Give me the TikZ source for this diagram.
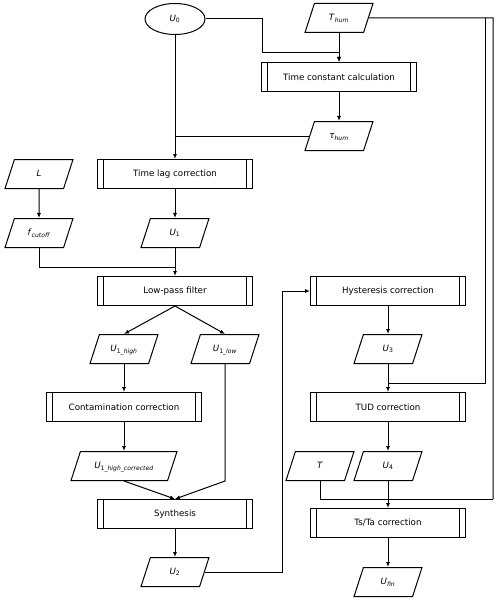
\documentclass[tikz,border=0pt]{standalone}
\usepackage{fontspec}
\setmainfont{DejaVu Sans}
\usetikzlibrary{shapes.geometric,arrows.meta,positioning}

\newcommand{\var}[2]{\textit{#1}\textsubscript{#2}}

\tikzset{
  proc/.style={draw, line width=1pt, minimum width=155pt, minimum height=29pt, inner sep=0pt,
    path picture={
      \draw[line width=1pt] ([xshift=6pt]path picture bounding box.north west) -- ([xshift=6pt]path picture bounding box.south west);
      \draw[line width=1pt] ([xshift=-6pt]path picture bounding box.north east) -- ([xshift=-6pt]path picture bounding box.south east);}},
  data/.style={draw, line width=1pt, trapezium, trapezium left angle=72, trapezium right angle=108,
    trapezium stretches body, text height=8pt, text depth=3pt, inner ysep=9pt, inner xsep=0pt,
    minimum width=#1},
  data/.default=68pt,
  term/.style={draw, line width=1pt, ellipse, minimum width=60pt, minimum height=31pt, inner sep=0pt},
  flow/.style={line width=1pt, -{Latex[length=5pt,width=4pt]}},
  wire/.style={line width=1pt}
}

\begin{document}
\begin{tikzpicture}[x=1pt,y=-1pt,font=\fontsize{8.7}{10}\selectfont]
\useasboundingbox (0,0) rectangle (500,602);
% inputs and first branch
\node[term] (u0) at (175,19) {\var{U}{0}};
\node[data] (thum) at (339,18) {\var{T}{\textit{hum}}};
\node[proc] (tcc) at (339,77) {Time constant calculation};
\node[data] (tau) at (339,136) {\var{τ}{\textit{hum}}};
\node[proc] (tlc) at (175,174) {Time lag correction};
\node[data] (L) at (39,174) {\textit{L}};
\node[data] (fcut) at (39,233) {\var{f}{\textit{cutoff}}};
\node[data] (u1) at (175,233) {\var{U}{1}};
\node[proc] (lpf) at (175,291) {Low-pass filter};
\node[data] (u1h) at (124,349) {\var{U}{1\textit{\_high}}};
\node[data] (u1l) at (225,349) {\var{U}{1\textit{\_low}}};
\node[proc] (cont) at (124,407) {Contamination correction};
\node[data=106pt] (u1hc) at (124,466) {\var{U}{1\textit{\_high\_corrected}}};
\node[proc] (syn) at (175,514) {Synthesis};
\node[data] (u2) at (175,572) {\var{U}{2}};
% second branch
\node[proc] (hys) at (388,291) {Hysteresis correction};
\node[data] (u3) at (388,349) {\var{U}{3}};
\node[proc] (tud) at (388,407) {TUD correction};
\node[data] (T) at (320,466) {\textit{T}};
\node[data] (u4) at (388,466) {\var{U}{4}};
\node[proc] (tsta) at (388,523) {Ts/Ta correction};
\node[data] (ufin) at (388,582) {\var{U}{\textit{fin}}};
% bends
\coordinate (j1) at (262,53);
\coordinate (j2) at (175,267);
\coordinate (j3) at (282,291);
\coordinate (j4) at (493,18);
\coordinate (j5) at (493,499);
\coordinate (j6) at (485,18);
\coordinate (j7) at (388,383);
% connectors
\draw[flow] (u0.east) -| (j1) -| (tcc.north);
\draw[flow] (thum) -- (tcc);
\draw[flow] (tcc) -- (tau);
\draw[flow] (u0) -- (tlc);
\draw[wire] (tau.west) -- (tau.west -| u0);
\draw[flow] (L) -- (fcut);
\draw[flow] (tlc) -- (u1);
\draw[flow] (u1) -- (lpf);
\draw[wire] (fcut.south) |- (j2);
\draw[flow] (lpf.south) -- (u1h.north);
\draw[flow] (lpf.south) -- (u1l.north);
\draw[flow] (u1h) -- (cont);
\draw[flow] (cont) -- (u1hc);
\draw[flow] (u1hc.south) -- (syn.north);
\draw[flow] (u1l.south) -- (u1l.south |- u1hc.south) -- (syn.north);
\draw[flow] (syn) -- (u2);
\draw[flow] (u2.east) -| (j3) -- (hys.west);
\draw[flow] (hys) -- (u3);
\draw[flow] (u3) -- (tud);
\draw[flow] (tud) -- (u4);
\draw[flow] (u4) -- (tsta);
\draw[flow] (tsta) -- (ufin);
\draw[wire] (thum.east) -- (j4) -- (j5);
\draw[wire] (T.south) |- (j5);
\draw[wire] (j6) |- (j7);
\end{tikzpicture}
\end{document}
